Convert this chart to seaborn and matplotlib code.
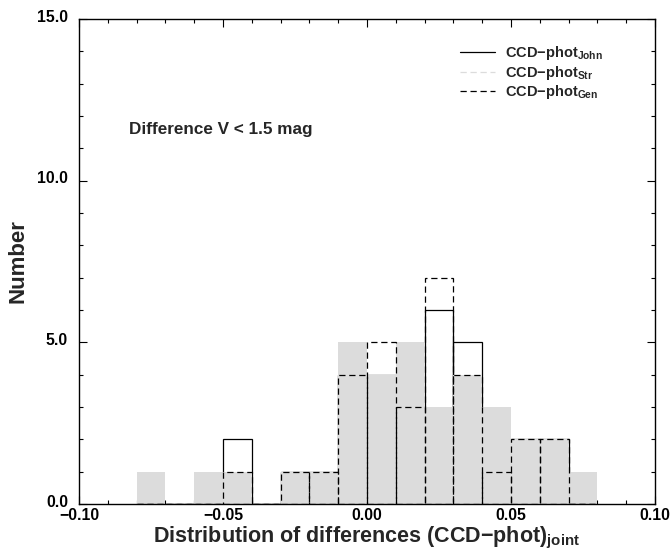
import numpy as np
import pandas as pd
import matplotlib
matplotlib.use("Agg")
import matplotlib.pyplot as plt
from matplotlib.lines import Line2D
from matplotlib.ticker import MultipleLocator, FuncFormatter
from matplotlib.transforms import ScaledTranslation
import seaborn as sns

# bin left edges (width 0.01)
bin_left = [-0.08, -0.07, -0.06, -0.05, -0.04, -0.03, -0.02, -0.01,
            0.00, 0.01, 0.02, 0.03, 0.04, 0.05, 0.06, 0.07]
counts_str = [1, 0, 1, 1, 0, 1, 1, 5, 4, 5, 3, 4, 3, 2, 2, 1]
counts_john = [0, 0, 0, 2, 0, 1, 1, 4, 4, 3, 6, 5, 1, 2, 2, 0]
counts_gen = [0, 0, 0, 1, 0, 1, 1, 4, 5, 3, 7, 4, 1, 2, 2, 0]
labels = ["CCD\u2212phot$_{John}$", "CCD\u2212phot$_{Str}$", "CCD\u2212phot$_{Gen}$"]

sns.set_style("ticks")
plt.rcParams['font.family'] = ['Liberation Sans', 'DejaVu Sans']
plt.rcParams['font.weight'] = 'bold'
plt.rcParams['mathtext.fontset'] = 'custom'
plt.rcParams['mathtext.rm'] = 'Liberation Sans:bold'
plt.rcParams['mathtext.it'] = 'Liberation Sans:bold'
plt.rcParams['mathtext.bf'] = 'Liberation Sans:bold'
plt.rcParams['mathtext.default'] = 'rm'

centers = np.round(np.array(bin_left) + 0.005, 4)
df = pd.DataFrame({"x": centers, "w_str": counts_str, "w_john": counts_john, "w_gen": counts_gen})

fig = plt.figure(figsize=(6.72, 5.51), dpi=100)
ax = fig.add_axes([79/672, 1-504/551, (655-79)/672, (504-19)/551])

common = dict(data=df, x="x", binwidth=0.01, binrange=(-0.08, 0.08), element="bars", ax=ax)
sns.histplot(weights="w_john", fill=False, color="black", linewidth=0.9, **common)
sns.histplot(weights="w_str", fill=True, color="#dcdcdc", alpha=1,
             edgecolor="none", linewidth=0, **common)
sns.histplot(weights="w_gen", fill=False, color="black", linewidth=0.9,
             linestyle=(0, (5, 3)), **common)

ax.set_xlim(-0.10, 0.10)
ax.set_ylim(0, 15)
for s in ax.spines.values():
    s.set_visible(True)
    s.set_linewidth(1.0)
    s.set_color("black")
    s.set_zorder(5)

ax.xaxis.set_major_locator(MultipleLocator(0.05))
ax.xaxis.set_minor_locator(MultipleLocator(0.01))
ax.yaxis.set_major_locator(MultipleLocator(5))
ax.yaxis.set_minor_locator(MultipleLocator(1))
ax.xaxis.set_major_formatter(FuncFormatter(lambda v, p: f"{v:.2f}".replace("-", "\u2212") if abs(v) > 1e-9 else "0.00"))
ax.yaxis.set_major_formatter(FuncFormatter(lambda v, p: f"{v:.1f}"))
ax.tick_params(which="both", direction="in", top=True, right=True, width=0.8, colors="black")
ax.tick_params(which="major", length=6, labelsize=11.4)
ax.tick_params(which="minor", length=3)
ax.tick_params(axis="y", pad=8)
ax.tick_params(axis="x", pad=3)
for t in ax.get_xticklabels() + ax.get_yticklabels():
    t.set_fontweight("bold")
fig.canvas.draw()
for lab in ax.get_yticklabels():
    lab.set_transform(lab.get_transform() + ScaledTranslation(0, 2.5/72, fig.dpi_scale_trans))

ax.set_xlabel("Distribution of differences (CCD\u2212phot)$_{joint}$", fontsize=15.5, fontweight="bold")
ax.set_ylabel("Number", fontsize=16, fontweight="bold")
ax.xaxis.set_label_coords(0.5, -0.044)
ax.yaxis.set_label_coords(-0.087, 0.5)

ax.text(0.087, 0.773, "Difference V < 1.5 mag", transform=ax.transAxes, fontsize=12.3,
        fontweight="bold", ha="left", va="center")

handles = [Line2D([], [], color="black", lw=0.9),
           Line2D([], [], color="#dcdcdc", lw=0.9, linestyle=(0, (5, 3))),
           Line2D([], [], color="black", lw=0.9, linestyle=(0, (5, 3)))]
leg = ax.legend(handles, labels, loc="upper left", bbox_to_anchor=(0.661, 0.948),
                frameon=False, borderpad=0, borderaxespad=0, handlelength=2.4,
                handletextpad=0.7, labelspacing=0.1,
                prop={"weight": "bold", "size": 10.5})

fig.savefig("out.png", dpi=100)
